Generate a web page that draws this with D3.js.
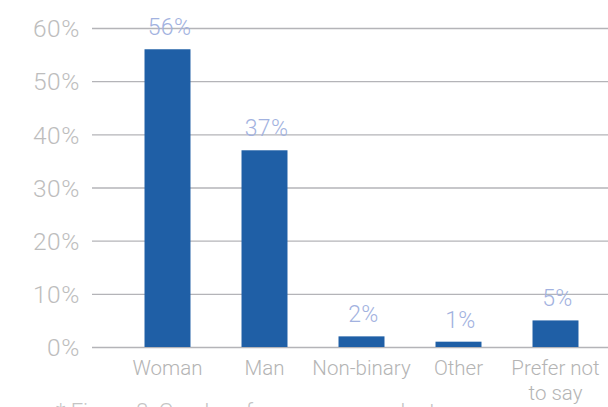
<!DOCTYPE html>
<html>
<head>
<meta charset="utf-8">
<script src="https://cdn.jsdelivr.net/npm/d3@7"></script>
<style>
  html, body { margin: 0; padding: 0; background: #fff; }
  svg { display: block; }
  text { font-family: Roboto, "Liberation Sans", Arial, sans-serif; font-weight: 300; }
</style>
</head>
<body>
<script>
// Survey gender breakdown
const categories = ["Woman", "Man", "Non-binary", "Other", "Prefer not to say"];
const categoryLines = [["Woman"], ["Man"], ["Non-binary"], ["Other"], ["Prefer not", "to say"]];
const shares = [56, 37, 2, 1, 5];
const yTicks = [0, 10, 20, 30, 40, 50, 60];
const caption = "* Figure 3: Gender of survey respondents";

const W = 608, H = 407;
const svg = d3.select("body").append("svg").attr("width", W).attr("height", H);

const y = d3.scaleLinear().domain([0, 60]).range([347, 28]);
const x = d3.scaleBand().domain(categories).range([119, 604]).paddingInner(0.526).paddingOuter(0.263);

// Horizontal gridlines with percent labels
const yAxis = d3.axisLeft(y).tickValues(yTicks).tickFormat(d => d + "%")
  .tickSize(-(608 - 92)).tickPadding(12);
const gy = svg.append("g").attr("transform", "translate(92,0)").call(yAxis);
gy.select(".domain").remove();
gy.selectAll(".tick line").attr("stroke", "#b4b4b8").attr("stroke-width", 1.4);
gy.selectAll(".tick text").attr("fill", "#bdbdbd").attr("font-size", 24.5)
  .attr("font-family", null).attr("letter-spacing", 0.6).attr("dy", "0.36em");

// Bars
svg.append("g").selectAll("rect").data(shares).join("rect")
  .attr("x", (d, i) => x(categories[i]))
  .attr("width", x.bandwidth())
  .attr("y", d => y(d))
  .attr("height", d => y(0) - y(d))
  .attr("fill", "#1f5fa6");

// Value labels above each bar
svg.append("g").selectAll("text").data(shares).join("text")
  .attr("x", (d, i) => x(categories[i]) + x.bandwidth() / 2 + 2)
  .attr("y", d => y(d) - 14)
  .attr("text-anchor", "middle")
  .attr("fill", "#a2b2e0")
  .attr("font-size", 23)
  .attr("letter-spacing", 0.3)
  .text(d => d + "%");

// Category labels
const cl = svg.append("g").selectAll("text").data(categoryLines).join("text")
  .attr("x", (d, i) => x(categories[i]) + x.bandwidth() / 2)
  .attr("y", 375)
  .attr("text-anchor", "middle")
  .attr("fill", "#b4b4b4")
  .attr("font-size", 20.5);
cl.selectAll("tspan").data(d => d).join("tspan")
  .attr("x", function () { return d3.select(this.parentNode).attr("x"); })
  .attr("dy", (d, i) => i === 0 ? 0 : 25)
  .text(d => d);

// Caption, mostly below the visible area
svg.append("text")
  .attr("x", 56).attr("y", 419)
  .attr("fill", "#c4c4c4")
  .attr("font-size", 22)
  .text(caption);
</script>
</body>
</html>
